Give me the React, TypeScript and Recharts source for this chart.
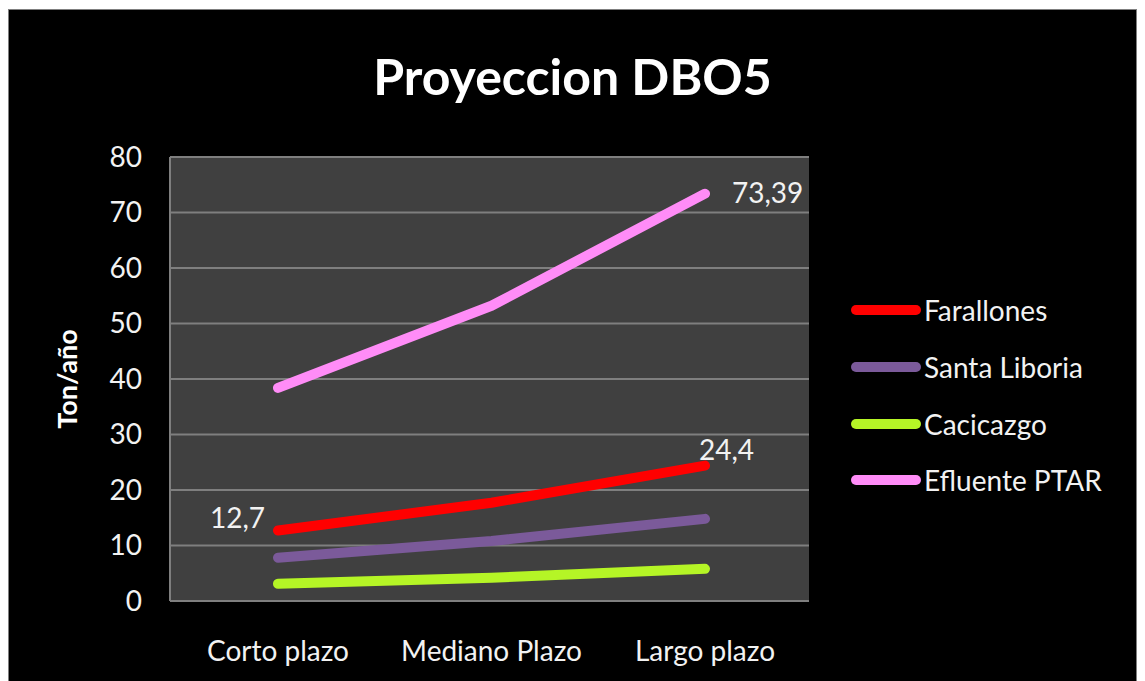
import React from 'react'
import {
  LineChart,
  Line,
  XAxis,
  YAxis,
  CartesianGrid,
  LabelList
} from 'recharts'

const categories = ['Corto plazo', 'Mediano Plazo', 'Largo plazo']
const farallones = [12.7, 17.7, 24.4]
const santaLiboria = [7.8, 10.8, 14.8]
const cacicazgo = [3.1, 4.2, 5.8]
const efluentePtar = [38.4, 53.2, 73.39]
const yTicks = [0, 10, 20, 30, 40, 50, 60, 70, 80]

const series = [
  { key: 'farallones', name: 'Farallones', color: '#ff0000' },
  { key: 'santaLiboria', name: 'Santa Liboria', color: '#7b5a9a' },
  { key: 'cacicazgo', name: 'Cacicazgo', color: '#b5f526' },
  { key: 'efluentePtar', name: 'Efluente PTAR', color: '#ff8cf7' }
]

const data = categories.map((name, i) => ({
  name,
  farallones: farallones[i],
  santaLiboria: santaLiboria[i],
  cacicazgo: cacicazgo[i],
  efluentePtar: efluentePtar[i]
}))

const FONT = 'Lato, "Open Sans", sans-serif'
const TEXT = '#f2f2f2'
const FS = 28

const fmt = (v: number) => String(v).replace('.', ',')

// only a few points carry a value label, like the original sheet
const makeLabel = (shown: Record<number, 'left' | 'above' | 'right'>) => (props: any) => {
  const { x, y, value, index } = props
  const pos = shown[index]
  if (!pos) return null
  let tx = x
  let ty = y
  let anchor: 'start' | 'end' = 'start'
  if (pos === 'left') {
    tx = x - 13
    ty = y - 10
    anchor = 'end'
  } else if (pos === 'above') {
    tx = x - 6
    ty = y - 13
  } else {
    tx = x + 27
    ty = y + 2
  }
  return (
    <text x={tx} y={ty} textAnchor={anchor} dominantBaseline="middle" fill={TEXT} fontSize={FS} fontFamily={FONT}>
      {fmt(value)}
    </text>
  )
}

const App: React.FC = () => {
  return (
    <div style={{ position: 'relative', width: 1127, height: 680, marginTop: 1, background: '#000', border: '1px solid #7f7f7f', overflow: 'hidden' }}>
      <div
        style={{
          position: 'absolute',
          top: 36,
          left: 0,
          width: 1127,
          textAlign: 'center',
          color: '#fff',
          fontFamily: FONT,
          fontWeight: 700,
          fontSize: 50
        }}
      >
        Proyeccion DBO5
      </div>
      <div style={{ position: 'absolute', left: 842, top: 272, fontFamily: FONT }}>
        {series.map((s) => (
          <div key={s.key} style={{ display: 'flex', alignItems: 'center', height: 56.7 }}>
            <div style={{ width: 70, height: 10, borderRadius: 5, background: s.color }} />
            <span style={{ color: TEXT, fontSize: FS, marginLeft: 3 }}>{s.name}</span>
          </div>
        ))}
      </div>
      <LineChart
        width={1127}
        height={680}
        data={data}
        margin={{ top: 147, right: 327, bottom: 29, left: 0 }}
      >
        <CartesianGrid vertical={false} stroke="#7f7f7f" strokeWidth={2} fill="#404040" />
        <XAxis
          dataKey="name"
          height={60}
          padding={{ left: 108, right: 104 }}
          axisLine={{ stroke: '#7f7f7f', strokeWidth: 2 }}
          tickLine={false}
          tickMargin={34}
          tick={{ fill: TEXT, fontSize: FS, fontFamily: FONT }}
        />
        <YAxis
          width={161}
          domain={[0, 80]}
          ticks={yTicks}
          axisLine={{ stroke: '#7f7f7f', strokeWidth: 2 }}
          tickLine={false}
          tickMargin={22}
          tick={{ fill: TEXT, fontSize: FS, fontFamily: FONT }}
          label={{
            value: 'Ton/año',
            angle: -90,
            position: 'insideLeft',
            offset: 58,
            fill: '#fff',
            fontSize: 27,
            fontWeight: 700,
            fontFamily: FONT,
            style: { textAnchor: 'middle' }
          }}
        />
        {series.map((s) => (
          <Line
            key={s.key}
            name={s.name}
            dataKey={s.key}
            type="linear"
            stroke={s.color}
            strokeWidth={10}
            strokeLinecap="round"
            strokeLinejoin="round"
            dot={false}
            activeDot={false}
            isAnimationActive={false}
          >
            {s.key === 'farallones' && (
              <LabelList dataKey={s.key} content={makeLabel({ 0: 'left', 2: 'above' })} />
            )}
            {s.key === 'efluentePtar' && (
              <LabelList dataKey={s.key} content={makeLabel({ 2: 'right' })} />
            )}
          </Line>
        ))}
      </LineChart>
    </div>
  )
}

export default App
